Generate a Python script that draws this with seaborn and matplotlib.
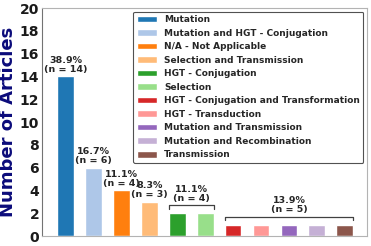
import matplotlib.pyplot as plt
import pandas as pd
import seaborn as sns
from matplotlib.patches import Patch

categories = [
    "Mutation",
    "Mutation and HGT - Conjugation",
    "N/A - Not Applicable",
    "Selection and Transmission",
    "HGT - Conjugation",
    "Selection",
    "HGT - Conjugation and Transformation",
    "HGT - Transduction",
    "Mutation and Transmission",
    "Mutation and Recombination",
    "Transmission",
]
counts = [14, 6, 4, 3, 2, 2, 1, 1, 1, 1, 1]
# bars labelled one by one, and bars that share one bracketed label
single_labels = [0, 1, 2, 3]
groups = [[4, 5], [6, 7, 8, 9, 10]]

total = sum(counts)
colors = sns.color_palette("tab20", len(categories))
df = pd.DataFrame({"category": categories, "count": counts})

sns.set_style("white")
fig = plt.figure(figsize=(3.71, 2.46), dpi=100)
ax = fig.add_axes([42 / 371, 10 / 246, 325 / 371, 228 / 246])

sns.barplot(
    data=df,
    x="category",
    y="count",
    hue="category",
    palette=colors,
    saturation=1,
    width=0.6,
    legend=False,
    ax=ax,
)

txt = dict(ha="center", va="bottom", fontsize=6.8, fontweight="bold", linespacing=1.0)
for i in single_labels:
    pct = 100 * counts[i] / total
    ax.text(i, counts[i] + 0.25, f"{pct:.1f}%\n(n = {counts[i]})", **txt)

for grp in groups:
    n = sum(counts[i] for i in grp)
    top = max(counts[i] for i in grp) + 0.7
    x0, x1 = grp[0] - 0.3, grp[-1] + 0.3
    ax.plot([x0, x0, x1, x1], [top - 0.3, top, top, top - 0.3],
            color="0.25", lw=0.9)
    ax.text((x0 + x1) / 2, top + 0.2, f"{100 * n / total:.1f}%\n(n = {n})", **txt)

ax.set_xlim(-0.85, 10.8)
ax.set_ylim(0, 20)
ax.set_yticks(range(0, 21, 2))
ax.set_xticks([])
ax.set_xlabel("")
ax.set_ylabel("Number of Articles", fontsize=13, fontweight="bold",
              color="#0b0b7a", labelpad=2)
ax.tick_params(axis="y", labelsize=10, pad=2, length=0, labelcolor="0.1")
for lab in ax.get_yticklabels():
    lab.set_fontweight("bold")
for side in ["top", "right", "bottom"]:
    ax.spines[side].set_color("0.7")
ax.spines["left"].set_color("0.45")

handles = [Patch(facecolor=c, label=l) for c, l in zip(colors, categories)]
leg = ax.legend(
    handles=handles,
    loc="upper right",
    prop={"size": 6.5, "weight": "bold"},
    handlelength=2.2,
    handleheight=0.75,
    handletextpad=0.8,
    labelspacing=0.5,
    borderaxespad=0.4,
    frameon=True,
    edgecolor="0.15",
    fancybox=True,
)
leg.get_frame().set_linewidth(0.8)

fig.savefig("out.png", dpi=100)
